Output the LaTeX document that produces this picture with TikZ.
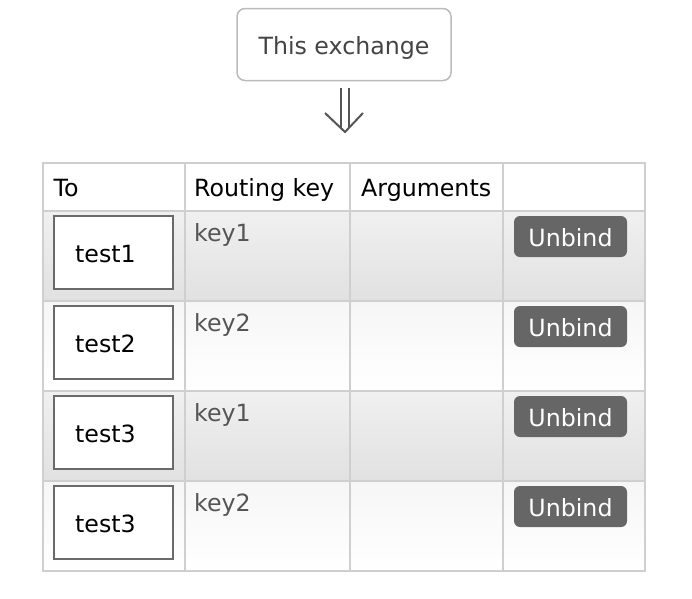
\documentclass[tikz,border=0pt]{standalone}
\usepackage{fontspec}
\setmainfont{DejaVu Sans}
\usetikzlibrary{calc}
\definecolor{gridc}{HTML}{CFCFCF}
\definecolor{exborder}{HTML}{BBBBBB}
\definecolor{extext}{HTML}{444444}
\definecolor{keytext}{HTML}{555555}
\definecolor{btnfill}{HTML}{666666}
\definecolor{toborder}{HTML}{6A6A6A}
\definecolor{arrc}{HTML}{555555}
\definecolor{oddtop}{HTML}{F0F0F0}
\definecolor{oddbot}{HTML}{E1E1E1}
\definecolor{eventop}{HTML}{F6F6F6}
\definecolor{evenbot}{HTML}{FFFFFF}
\begin{document}
\begin{tikzpicture}[x=1pt,y=-1pt,
  every node/.style={font=\fontsize{23.7}{28}\selectfont, inner sep=0pt},
  exbox/.style={draw=exborder, line width=1.5pt, rounded corners=8pt, fill=white,
    minimum width=214pt, minimum height=72pt, text height=19pt, text depth=0pt, text=extext},
  arrline/.style={draw=arrc, line width=2pt},
  gridline/.style={draw=gridc, line width=2pt},
  headtext/.style={anchor=base west, text=black},
  tobox/.style={draw=toborder, line width=1.6pt, fill=white, minimum width=119pt, minimum height=73pt},
  totext/.style={anchor=base west, text=black},
  keylabel/.style={anchor=base west, text=keytext},
  btn/.style={fill=btnfill, rounded corners=6pt, minimum width=113pt, minimum height=41pt,
    text height=19pt, text depth=0pt, text=white}
]
\useasboundingbox (0,0) rectangle (692,598);
\fill[white] (0,0) rectangle (692,598);

% exchange box
\node[exbox] (ex) at (344,44.5) {This exchange};

% double arrow
\coordinate (arrtop) at (345,88);
\coordinate (arrtip) at (345,132);
\draw[arrline] ($(arrtop)+(-4,0)$) -- ($(arrtip)+(-4,-4)$);
\draw[arrline] ($(arrtop)+(4,0)$) -- ($(arrtip)+(4,-4)$);
\draw[arrline, line join=miter] ($(arrtip)+(-20,-19)$) -- (arrtip) -- ($(arrtip)+(18,-19)$);

% row backgrounds
\foreach \i/\ct/\cb in {0/oddtop/oddbot, 1/eventop/evenbot, 2/oddtop/oddbot, 3/eventop/evenbot}{
  \shade[top color=\ct, bottom color=\cb] (43,{211+90*\i}) rectangle (645,{301+90*\i});
}

% grid
\draw[gridline] (43,163) rectangle (645,571);
\foreach \x in {185,350,503}{\draw[gridline] (\x,163) -- (\x,571);}
\foreach \y in {211,301,391,481}{\draw[gridline] (43,\y) -- (645,\y);}

% header
\node[headtext] (hto) at (53.5,196) {To};
\node[headtext] (hkey) at (194,196) {Routing key};
\node[headtext] (hargs) at (361,196) {Arguments};

% rows
\foreach \i/\tname/\kname in {0/test1/key1, 1/test2/key2, 2/test3/key1, 3/test3/key2}{
  \node[tobox] (to\i) at (113.5,{252.5+90*\i}) {};
  \node[totext] (tt\i) at (75,{262+90*\i}) {\tname};
  \node[keylabel] (key\i) at (194,{241+90*\i}) {\kname};
  \node[btn] (btn\i) at (570.5,{236.5+90*\i}) {Unbind};
}
\end{tikzpicture}
\end{document}
